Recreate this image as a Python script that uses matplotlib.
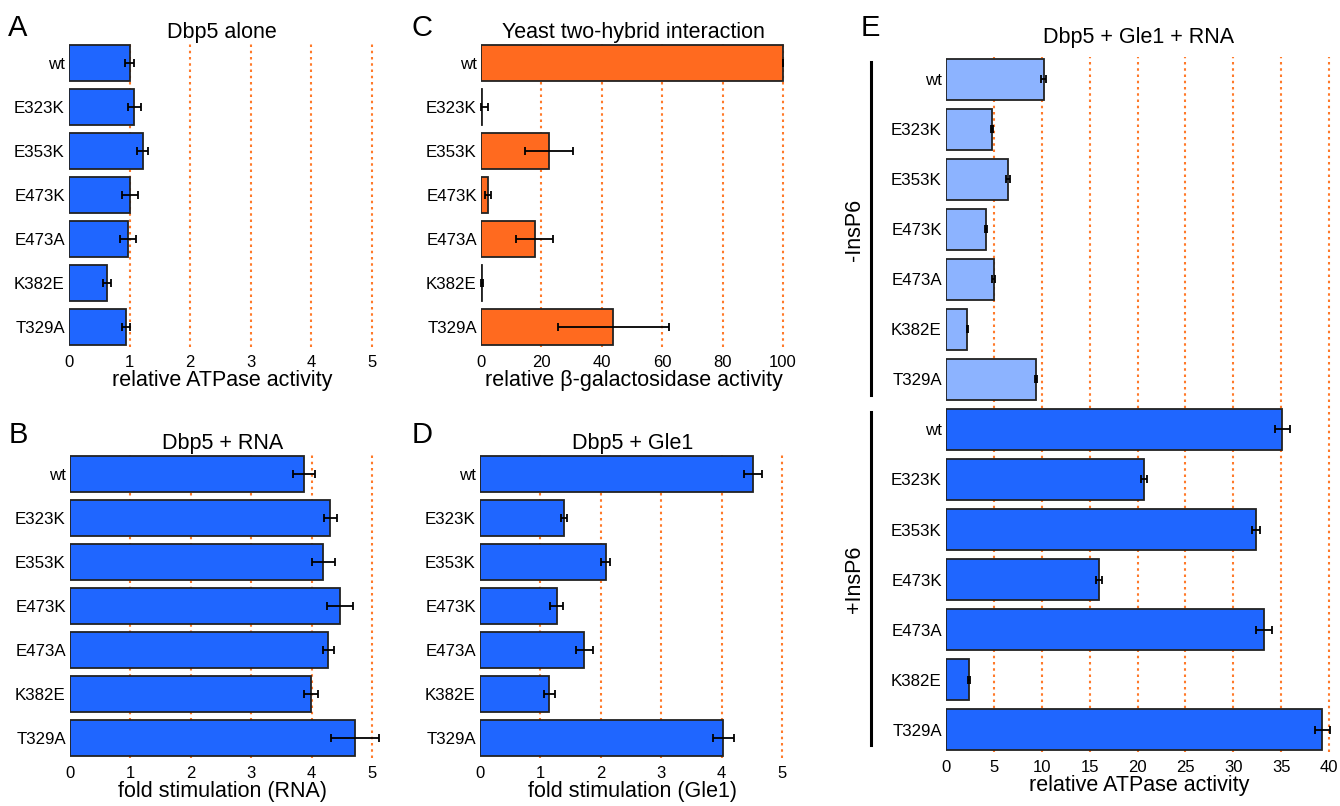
import matplotlib
matplotlib.use('Agg')
import matplotlib.pyplot as plt
import matplotlib.transforms as mtransforms

plt.rcParams['font.family'] = ['Liberation Sans', 'DejaVu Sans']

mutants = ['wt', 'E323K', 'E353K', 'E473K', 'E473A', 'K382E', 'T329A']

# A: Dbp5 alone
alone_vals = [1.0, 1.08, 1.22, 1.01, 0.97, 0.63, 0.94]
alone_err = [0.08, 0.10, 0.09, 0.13, 0.135, 0.065, 0.07]

# B: Dbp5 + RNA
rna_vals = [3.88, 4.31, 4.19, 4.47, 4.28, 3.99, 4.72]
rna_err = [0.18, 0.11, 0.19, 0.22, 0.09, 0.11, 0.40]

# C: yeast two-hybrid
y2h_vals = [100, 0.4, 22.5, 2.4, 17.8, 0.4, 43.8]
y2h_err = [0, 2.0, 7.8, 1.0, 6.2, 0.4, 18.3]

# D: Dbp5 + Gle1
gle1_vals = [4.52, 1.39, 2.08, 1.27, 1.73, 1.15, 4.03]
gle1_err = [0.15, 0.05, 0.07, 0.11, 0.14, 0.09, 0.17]

# E: Dbp5 + Gle1 + RNA, without / with InsP6
no_ip6_vals = [10.2, 4.83, 6.43, 4.17, 4.97, 2.23, 9.39]
no_ip6_err = [0.25, 0.1, 0.2, 0.1, 0.15, 0.05, 0.15]
ip6_vals = [35.1, 20.7, 32.35, 16.0, 33.2, 2.43, 39.3]
ip6_err = [0.78, 0.33, 0.45, 0.33, 0.8, 0.1, 0.78]

BLUE = '#1f66ff'
LIGHT = '#8cb3ff'
ORANGE = '#ff6a1f'
GRID = '#ff7a2a'

W, H = 1340, 806
fig = plt.figure(figsize=(W / 100, H / 100), dpi=100)


def make_axes(x0, y0, x1, y1):
    return fig.add_axes([x0 / W, 1 - y1 / H, (x1 - x0) / W, (y1 - y0) / H])


def panel(ax, labels, vals, errs, colors, xmax, ticks, title, xlabel, tpad=3):
    n = len(labels)
    pos = list(range(n))
    ax.barh(pos, vals, height=0.82, color=colors, edgecolor='#222222',
            linewidth=1.3, zorder=2)
    # error bars never reach below zero
    lo = [min(v, e) for v, e in zip(vals, errs)]
    eb = ax.errorbar(vals, pos, xerr=[lo, errs], fmt='none', ecolor='black',
                     elinewidth=1.3, capsize=3, capthick=1.3, zorder=3)
    for art in eb.lines[1] + eb.lines[2]:
        art.set_clip_on(False)
    for t in ticks[1:]:
        ax.axvline(t, color=GRID, ls=(0, (1.2, 1.8)), lw=1.5, zorder=0)
    ax.set_xlim(0, xmax)
    ax.set_ylim(n - 0.55, -0.45)
    ax.set_xticks(ticks)
    ax.set_yticks(pos)
    ax.set_yticklabels(labels)
    ax.tick_params(axis='x', length=0, pad=6, labelsize=12)
    ax.tick_params(axis='y', length=0, pad=3, labelsize=12.2)
    for s in ax.spines.values():
        s.set_visible(False)
    ax.set_title(title, fontsize=15.5, pad=tpad)
    ax.set_xlabel(xlabel, fontsize=15.5, labelpad=0)


axA = make_axes(69, 43, 375, 347)
panel(axA, mutants, alone_vals, alone_err, BLUE, 5.05, [0, 1, 2, 3, 4, 5],
      'Dbp5 alone', 'relative ATPase activity')

axB = make_axes(70, 454, 375, 758)
panel(axB, mutants, rna_vals, rna_err, BLUE, 5.05, [0, 1, 2, 3, 4, 5],
      'Dbp5 + RNA', 'fold stimulation (RNA)')

axC = make_axes(481, 43, 786, 347)
panel(axC, mutants, y2h_vals, y2h_err, ORANGE, 101, [0, 20, 40, 60, 80, 100],
      'Yeast two-hybrid interaction', 'relative β-galactosidase activity')

axD = make_axes(480, 454, 785, 758)
panel(axD, mutants, gle1_vals, gle1_err, BLUE, 5.05, [0, 1, 2, 3, 4, 5],
      'Dbp5 + Gle1', 'fold stimulation (Gle1)')

axE = make_axes(946, 57, 1332, 752)
e_labels = mutants + mutants
e_vals = no_ip6_vals + ip6_vals
e_err = no_ip6_err + ip6_err
e_colors = [LIGHT] * len(mutants) + [BLUE] * len(mutants)
panel(axE, e_labels, e_vals, e_err, e_colors, 40.3, list(range(0, 41, 5)),
      'Dbp5 + Gle1 + RNA', 'relative ATPase activity', tpad=10)

trans = mtransforms.blended_transform_factory(axE.transAxes, axE.transData)
n = len(mutants)
for g, name in enumerate(['-InsP6', '+InsP6']):
    start = g * n
    axE.plot([-0.194, -0.194], [start - 0.35, start + n - 0.69], color='black',
             lw=2.2, transform=trans, clip_on=False)
    axE.text(-0.236, start + (n - 1) / 2, name, rotation=90, ha='center',
             va='center', fontsize=15.5, transform=trans)

for letter, x, y in [('A', 18, 28), ('B', 18, 435), ('C', 422, 28),
                     ('D', 422, 435), ('E', 870, 28)]:
    fig.text(x / W, 1 - y / H, letter, fontsize=21, ha='center', va='center')

fig.savefig('out.png', dpi=100)
